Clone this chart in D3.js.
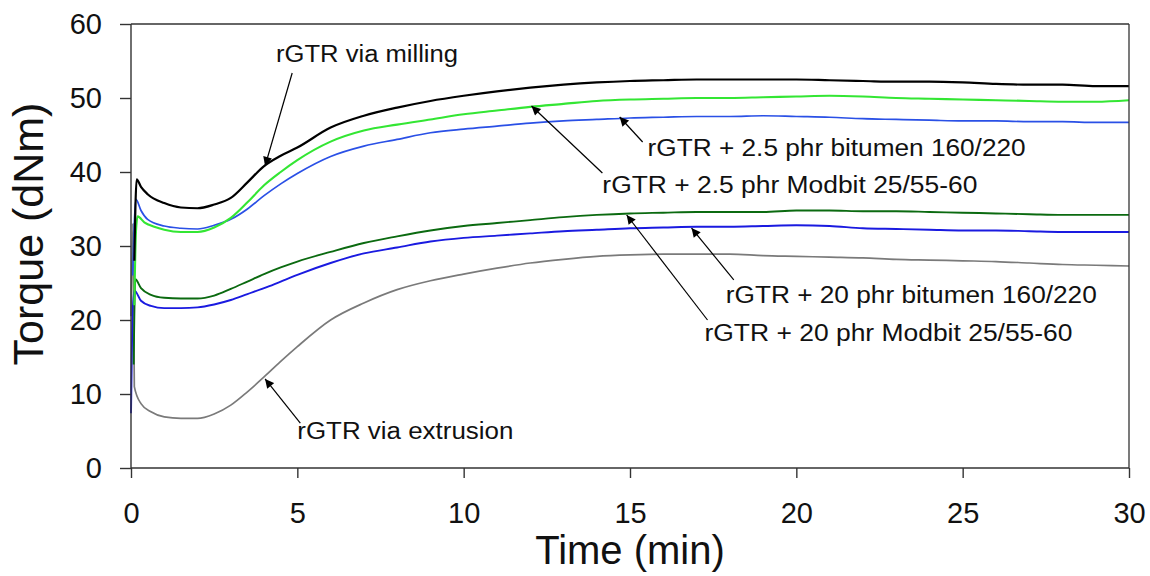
<!DOCTYPE html>
<html><head><meta charset="utf-8">
<script src="https://cdn.jsdelivr.net/npm/d3@7"></script>
<style>
html,body{margin:0;padding:0;background:#fff;}
svg{display:block;font-family:Arial,"Liberation Sans",sans-serif;}
</style></head>
<body><svg id="c" width="1150" height="576"></svg>
<script>
// ---------- data ----------
const xTicks = [0,5,10,15,20,25,30];
const yTicks = [0,10,20,30,40,50,60];

const tMilling = [0.1,0.17,0.3,0.5,1.0,1.5,2.0,2.5,3.0,3.5,4.0,4.5,5,6,7,8,9,10,11,12,13,14,15,16,17,18,19,20,21,22,23,24,25,26,27,28,29,30];
const vMilling = [28,39.0,38.0,37.0,35.8,35.2,35.1,35.6,36.5,38.6,40.8,42.2,43.3,46.0,47.6,48.7,49.6,50.3,50.9,51.4,51.8,52.1,52.3,52.4,52.5,52.5,52.5,52.5,52.4,52.3,52.2,52.2,52.1,51.9,51.8,51.8,51.6,51.6];

const tModbit25 = [0.1,0.15,0.2,0.4,0.7,1.0,1.5,2.0,2.5,3.0,3.5,4.0,4.5,5,6,7,8,9,10,11,12,13,14,15,16,17,18,19,20,21,22,23,24,25,26,27,28,29,30];
const vModbit25 = [22,32,34.0,33.2,32.6,32.2,31.9,31.9,32.5,33.8,35.9,38.2,40.0,41.6,44.1,45.6,46.4,47.1,47.8,48.3,48.8,49.2,49.6,49.8,49.9,50.0,50.0,50.1,50.2,50.3,50.2,50.0,49.9,49.8,49.7,49.6,49.5,49.5,49.7];

const tBitumen25 = [0.05,0.15,0.3,0.5,1.0,1.5,2.0,2.5,3.0,3.5,4.0,4.5,5,6,7,8,9,10,11,12,13,14,15,16,17,18,19,20,21,22,23,24,25,26,27,28,29,30];
const vBitumen25 = [26,36.3,34.8,33.6,32.7,32.4,32.3,32.8,33.6,35.0,36.8,38.4,39.8,42.1,43.5,44.4,45.3,45.8,46.2,46.6,46.9,47.1,47.3,47.4,47.5,47.5,47.6,47.5,47.4,47.2,47.1,47.0,46.9,46.9,46.8,46.8,46.7,46.7];

const tModbit20 = [0.08,0.13,0.3,0.6,1.0,1.5,2.0,2.5,3.0,3.5,4.0,4.5,5,6,7,8,9,10,11,12,13,14,15,16,17,18,19,20,21,22,23,24,25,26,27,28,29,30];
const vModbit20 = [14,25.5,24.3,23.4,23.0,22.9,22.9,23.3,24.2,25.2,26.2,27.1,27.9,29.2,30.4,31.3,32.1,32.7,33.1,33.5,33.9,34.2,34.4,34.5,34.6,34.6,34.6,34.8,34.8,34.7,34.7,34.6,34.5,34.4,34.3,34.2,34.2,34.2];

const tBitumen20 = [0,0.04,0.1,0.3,0.6,1.0,1.5,2.0,2.5,3.0,3.5,4.0,4.5,5,6,7,8,9,10,11,12,13,14,15,16,17,18,19,20,21,22,23,24,25,26,27,28,29,30];
const vBitumen20 = [7.4,20,24.0,22.6,21.9,21.6,21.6,21.7,22.1,22.7,23.5,24.3,25.2,26.1,27.7,29.0,29.8,30.6,31.1,31.4,31.7,32.0,32.2,32.4,32.5,32.6,32.6,32.7,32.8,32.7,32.4,32.3,32.2,32.1,32.1,32.0,31.9,31.9,31.9];

const tExtrusion = [0,0.06,0.1,0.3,0.6,1.0,1.5,2.0,2.5,3.0,3.5,4.0,4.5,5,6,7,8,9,10,11,12,13,14,15,16,17,18,19,20,21,22,23,24,25,26,27,28,29,30];
const vExtrusion = [20.5,33,11.0,8.7,7.6,6.9,6.7,6.7,7.3,8.5,10.3,12.3,14.4,16.4,20.0,22.3,24.1,25.3,26.2,27.0,27.7,28.2,28.6,28.8,28.9,28.9,28.9,28.7,28.6,28.5,28.4,28.2,28.1,28.0,27.9,27.7,27.5,27.4,27.3];

// annotation labels and arrows (data units)
const labelTexts = ["rGTR via milling","rGTR + 2.5 phr bitumen 160/220","rGTR + 2.5 phr Modbit 25/55-60","rGTR + 20 phr bitumen 160/220","rGTR + 20 phr Modbit 25/55-60","rGTR via extrusion"];
const labelPos = [[4.36,54.86],[15.53,42.16],[14.17,37.16],[17.88,22.30],[17.24,17.16],[5.0,3.92]];
const arrowFrom = [[4.845,53.38],[15.38,44.05],[14.17,39.86],[18.12,25.41],[17.33,20.0],[5.09,6.08]];
const arrowTo = [[4.03,40.81],[14.69,47.43],[12.04,48.92],[16.85,32.43],[14.9,34.19],[4.03,12.03]];

// ---------- chart ----------
const svg = d3.select("#c");
const L = 131, R = 1129, T = 24, B = 468;
const x = d3.scaleLinear().domain([0,30]).range([L,R]);
const y = d3.scaleLinear().domain([0,60]).range([B,T]);

const series = [
  {t:tExtrusion, v:vExtrusion, c:"#7a7a7a", w:1.7},
  {t:tBitumen20, v:vBitumen20, c:"#1a1ae0", w:1.9},
  {t:tModbit20, v:vModbit20, c:"#0b6a10", w:1.9},
  {t:tBitumen25, v:vBitumen25, c:"#2a50e6", w:1.7},
  {t:tModbit25, v:vModbit25, c:"#33e633", w:2.1},
  {t:tMilling, v:vMilling, c:"#000000", w:2.2},
];

const line = d3.line().x(d=>x(d[0])).y(d=>y(d[1])).curve(d3.curveMonotoneX);
series.forEach(s=>{
  svg.append("path").attr("d", line(s.t.map((t,i)=>[t,s.v[i]])))
    .attr("fill","none").attr("stroke",s.c).attr("stroke-width",s.w).attr("stroke-linejoin","round");
});

// frame (top & right)
svg.append("line").attr("x1",L).attr("x2",R).attr("y1",T).attr("y2",T).attr("stroke","#333").attr("stroke-width",1.3);
svg.append("line").attr("x1",R).attr("x2",R).attr("y1",T).attr("y2",B).attr("stroke","#333").attr("stroke-width",1.3);

// axes
const xAxis = svg.append("g").attr("transform",`translate(0,${B})`)
  .call(d3.axisBottom(x).tickValues(xTicks).tickSize(10).tickPadding(24).tickFormat(d3.format("d")));
const yAxis = svg.append("g").attr("transform",`translate(${L},0)`)
  .call(d3.axisLeft(y).tickValues(yTicks).tickSize(11).tickPadding(18).tickFormat(d3.format("d")));
[xAxis,yAxis].forEach(g=>{
  g.select(".domain").attr("stroke","#333").attr("stroke-width",1.4);
  g.selectAll(".tick line").attr("stroke","#333").attr("stroke-width",1.4);
  g.selectAll(".tick text").attr("font-size",29).attr("fill","#111").attr("font-family","Arial, 'Liberation Sans', sans-serif");
});
yAxis.select(".domain").attr("d",`M0,${B}V${T}`);
xAxis.select(".domain").attr("d",`M${L},0H${R}`);

// titles
svg.append("text").attr("x",630).attr("y",564).attr("text-anchor","middle")
  .attr("font-size",40).attr("fill","#111").text("Time (min)");
svg.append("text").attr("transform","translate(43,234) rotate(-90)").attr("text-anchor","middle")
  .attr("font-size",43).attr("fill","#111").text("Torque (dNm)");

// annotations
const defs = svg.append("defs");
defs.append("marker").attr("id","ah").attr("viewBox","0 0 10 10").attr("refX",10).attr("refY",5)
  .attr("markerWidth",11).attr("markerHeight",9).attr("markerUnits","userSpaceOnUse").attr("orient","auto")
  .append("path").attr("d","M0,0L10,5L0,10z").attr("fill","#000");
arrowFrom.forEach((f,i)=>{
  const to = arrowTo[i];
  svg.append("line").attr("x1",x(f[0])).attr("y1",y(f[1])).attr("x2",x(to[0])).attr("y2",y(to[1]))
    .attr("stroke","#000").attr("stroke-width",1.2).attr("marker-end","url(#ah)");
});
const labelWidths = [182,378,375,371,368,216];
labelTexts.forEach((s,i)=>{
  svg.append("text").attr("x",x(labelPos[i][0])).attr("y",y(labelPos[i][1]))
    .attr("font-size",23).attr("fill","#111")
    .attr("textLength",labelWidths[i]).attr("lengthAdjust","spacingAndGlyphs").text(s);
});
</script></body></html>
